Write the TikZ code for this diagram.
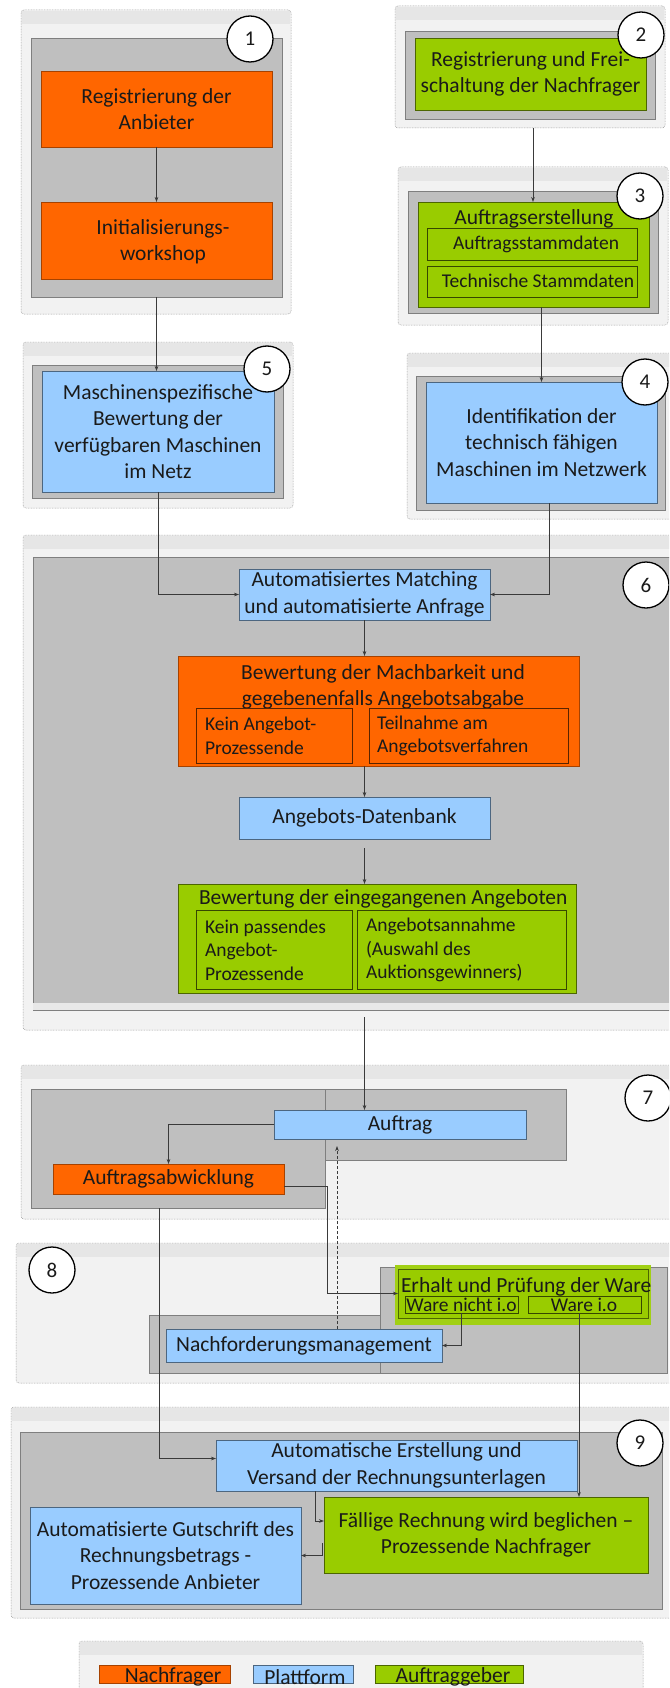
\documentclass[tikz,border=0pt]{standalone}
\usepackage{fontspec}
\setmainfont{Carlito}
\usetikzlibrary{arrows.meta,calc}

\definecolor{orangec}{HTML}{FF6600}
\definecolor{bluec}{HTML}{99CCFF}
\definecolor{greenc}{HTML}{99CC00}
\definecolor{grayin}{HTML}{BFBFBF}
\definecolor{grayline}{HTML}{7F7F7F}
\definecolor{outerc}{HTML}{F2F2F2}
\definecolor{bandc}{HTML}{E6E6E6}
\definecolor{dotc}{HTML}{A0A0A0}
\definecolor{linkc}{HTML}{3A3A3A}
\definecolor{textc}{HTML}{1A1A1A}

\tikzset{
  boxbase/.style={rectangle, inner sep=0pt, outer sep=0pt, text=textc},
  bigtext/.style={font=\fontsize{21.5}{26.5}\selectfont, align=center},
  smalltext/.style={font=\fontsize{19.5}{23.5}\selectfont, align=left},
  outerbox/.style={boxbase, fill=outerc, draw=dotc, line width=0.5pt,
    dash pattern=on 0.8pt off 0.8pt, rounded corners=3pt},
  graybox/.style={boxbase, fill=grayin, draw=grayline, line width=0.8pt},
  orangebox/.style={boxbase, bigtext, fill=orangec, draw=orangec!65!black, line width=0.6pt},
  bluebox/.style={boxbase, bigtext, fill=bluec, draw=bluec!50!black, line width=0.6pt},
  greenbox/.style={boxbase, bigtext, fill=greenc, draw=greenc!50!black, line width=0.6pt},
  osub/.style={boxbase, draw=orangec!35!black, line width=0.9pt},
  gsub/.style={boxbase, draw=greenc!35!black, line width=0.9pt},
  stepnum/.style={circle, draw=black, fill=white, line width=1.3pt, minimum size=46pt,
    inner sep=0pt, text=textc, font=\fontsize{21}{21}\selectfont},
  link/.style={draw=linkc, line width=0.7pt, -{Stealth[length=5pt,width=3.6pt]}},
  dlink/.style={link, dash pattern=on 3pt off 2pt},
  txt/.style={boxbase, bigtext},
  stxt/.style={boxbase, smalltext},
}

% box from corner (x1,y1) to corner (x2,y2): name, style, x1, y1, x2, y2, text
\newcommand\mybox[7]{\node[#2, minimum width={#5pt-#3pt}, minimum height={#6pt-#4pt}] (#1) at ({(#3+#5)/2},{(#4+#6)/2}) {#7};}
% light section frame with darker top band: name, x1, y1, x2, y2
\newcommand\secbox[5]{%
  \node[outerbox, minimum width={#4pt-#2pt}, minimum height={#5pt-#3pt}] (#1) at ({(#2+#4)/2},{(#3+#5)/2}) {};
  \fill[bandc] (#2+1.2,#3+1.2) rectangle (#4-1.2,#3+14);
}

\begin{document}
\begin{tikzpicture}[x=1pt,y=-1pt]
\clip (0,0) rectangle (669,1688);
\fill[white] (0,0) rectangle (669,1688);

% ---- 1: Anbieter registration
\secbox{s1}{21}{10}{291}{314}
\mybox{g1}{graybox}{31}{38}{282}{297}{}
\mybox{o1}{orangebox}{41}{71}{272}{147}{Registrierung der\\Anbieter}
\mybox{o2}{orangebox}{41}{202}{272}{279}{}
\node[txt] (o2t) at (163,242) {Initialisierungs-\\workshop};
\node[stepnum] (c1) at (250,39) {1};

% ---- 2: Nachfrager registration
\secbox{s2}{395}{6}{665}{128}
\mybox{g2}{graybox}{405}{31}{655}{119}{}
\mybox{gr2}{greenbox}{415}{38}{646}{110}{Registrierung und Frei-\\schaltung der Nachfrager}
\node[stepnum] (c2) at (641,35) {2};

% ---- 3: order creation
\secbox{s3}{398}{167}{668}{325}
\mybox{g3}{graybox}{408}{191}{658}{313}{}
\mybox{gr3}{greenbox}{418}{202}{649}{307}{}
\node[txt] (t3) at (534,219) {Auftragserstellung};
\mybox{sa}{gsub}{427}{228}{637}{260}{}
\node[stxt] (sat) at (536,244) {Auftragsstammdaten};
\mybox{sb}{gsub}{427}{266}{637}{297}{}
\node[stxt] (sbt) at (538,281) {Technische Stammdaten};
\node[stepnum] (c3) at (640,196) {3};

% ---- 4: capable machines
\secbox{s4}{407}{353}{675}{519}
\mybox{g4}{graybox}{416}{376}{665}{510}{}
\mybox{b4}{bluebox}{426}{382}{657}{503}{Identifikation der\\technisch fähigen\\Maschinen im Netzwerk}
\node[stepnum] (c4) at (645,382) {4};

% ---- 5: machine rating
\secbox{s5}{23}{342}{293}{508}
\mybox{g5}{graybox}{32}{365}{283}{498}{}
\mybox{b5}{bluebox}{42}{371}{274}{492}{Maschinenspezifische\\Bewertung der\\verfügbaren Maschinen\\im Netz}
\node[stepnum] (c5) at (267,369) {5};

% ---- 6: matching and offers
\secbox{s6}{23}{535}{675}{1030}
\mybox{g6}{graybox}{33}{557}{680}{1010}{}
\fill[outerc!96!black] (33.4,1003) rectangle (669,1009.6);
\node[stepnum] (c6) at (646,585) {6};
\mybox{match}{bluebox}{239}{569}{490}{620}{Automatisiertes Matching\\und automatisierte Anfrage}
\mybox{org6}{orangebox}{178}{656}{579}{766}{}
\node[txt] (org6t) at (383,687) {Bewertung der Machbarkeit und\\gegebenenfalls Angebotsabgabe};
\mybox{os1}{osub}{196}{708}{352}{763}{}
\node[stxt, anchor=west] (os1t) at (205,736) {Kein Angebot-\\Prozessende};
\mybox{os2}{osub}{369}{708}{568}{763}{}
\node[stxt, anchor=west] (os2t) at (377,736) {Teilnahme am\\Angebotsverfahren};
\mybox{db}{bluebox}{239}{797}{490}{839}{Angebots-Datenbank}
\mybox{gr6}{greenbox}{178}{884}{576}{993}{}
\node[txt, anchor=west] (gr6t) at (199,899) {Bewertung der eingegangenen Angeboten};
\mybox{gs1}{gsub}{196}{910}{352}{989}{}
\node[stxt, anchor=west] (gs1t) at (205,950) {Kein passendes\\Angebot-\\Prozessende};
\mybox{gs2}{gsub}{357}{910}{566}{989}{}
\node[stxt, anchor=west] (gs2t) at (366,950) {Angebotsannahme\\(Auswahl des\\Auktionsgewinners)};

% ---- 7: order
\secbox{s7}{21}{1065}{675}{1219}
\mybox{g7b}{graybox}{31}{1089}{325}{1208}{}
\mybox{g7a}{graybox}{325}{1089}{566}{1160}{}
\mybox{auftrag}{bluebox}{274}{1110}{526}{1139}{Auftrag}
\mybox{abw}{orangebox}{53}{1164}{284}{1194}{Auftragsabwicklung}
\node[stepnum] (c7) at (648,1098) {7};

% ---- 8: goods receipt
\secbox{s8}{16}{1243}{675}{1383}
\mybox{g8b}{graybox}{149}{1315}{380}{1373}{}
\mybox{g8a}{graybox}{380}{1267}{667}{1373}{}
\fill[greenc!92!white] (395,1265) rectangle (651,1325);
\mybox{erh}{greenbox}{398}{1269}{648}{1318}{}
\node[txt, anchor=west] (erht) at (401,1287) {Erhalt und Prüfung der Ware};
\mybox{wn}{gsub}{405}{1296}{518}{1313}{}
\node[stxt] (wnt) at (461.5,1305) {Ware nicht i.o};
\mybox{wi}{gsub}{528}{1296}{641}{1313}{}
\node[stxt] (wit) at (584,1305) {Ware i.o};
\mybox{nach}{bluebox}{166}{1329}{442}{1362}{Nachforderungsmanagement}
\node[stepnum] (c8) at (52,1270) {8};

% ---- 9: invoicing
\secbox{s9}{11}{1407}{675}{1618}
\mybox{g9}{graybox}{20}{1432}{662}{1609}{}
\mybox{rech}{bluebox}{216}{1440}{577}{1491}{Automatische Erstellung und\\Versand der Rechnungsunterlagen}
\mybox{fr}{greenbox}{324}{1497}{648}{1573}{Fällige Rechnung wird beglichen –\\Prozessende Nachfrager}
\mybox{gut}{bluebox}{30}{1507}{301}{1604}{Automatisierte Gutschrift des\\Rechnungsbetrags -\\Prozessende Anbieter}
\node[stepnum] (c9) at (640,1443) {9};

% ---- legend
\secbox{leg}{79}{1641}{643}{1710}
\mybox{lo}{orangebox}{99}{1665}{230}{1683}{}
\node[txt] (lot) at (173,1677) {Nachfrager};
\mybox{lb}{bluebox}{253}{1665}{353}{1683}{}
\node[txt] (lbt) at (305,1677) {Plattform};
\mybox{lg}{greenbox}{375}{1665}{523}{1683}{}
\node[txt] (lgt) at (453,1677) {Auftraggeber};

% ---- connectors
\draw[link] (o1.south) -- (o2.north);
\draw[link] (g1.south) -- (g1.south |- b5.north);
\draw[link] ($(s2.south)+(3,0)$) -- ($(s2.south |- gr3.north)+(3,0)$);
\draw[link] (b4.north |- gr3.south) -- (b4.north);
\draw[link] (b5.south) |- (match.west);
\draw[link] ($(b4.south)+(7.5,0)$) |- (match.east);
\draw[link] (match.south) -- (match.south |- org6.north);
\draw[link] (db.north |- org6.south) -- (db.north);
\draw[link, line width=1.1pt] ($(db.south)+(0,9)$) -- (db.south |- gr6.north);
\draw[link] ($(db.south |- g6.south)+(0,7)$) -- (db.south |- auftrag.north);
\draw[link] (auftrag.west) -| (abw.north);
\draw[link] ($(abw.east)+(0,7)$) -- ++(43,0) |- (erh.west);
\draw[link] ($(abw.south |- g7b.south)+(-9.5,0)$) |- ($(rech.west)+(0,-7)$);
\draw[dlink] ($(nach.north)+(33,0)$) -- ($(nach.north |- auftrag.south)+(33,7)$);
\draw[link] (wn.south) |- (nach.east);
\draw[link] ($(wi.south)+(-5.5,0)$) -- ($(wi.south |- fr.north)+(-5.5,0)$);
\draw[link] ($(rech.south)+(-81.5,0)$) |- ($(fr.west)+(0,-14)$);
\draw[link] ($(fr.west)+(-2,8)$) |- (gut.east);
\end{tikzpicture}
\end{document}
